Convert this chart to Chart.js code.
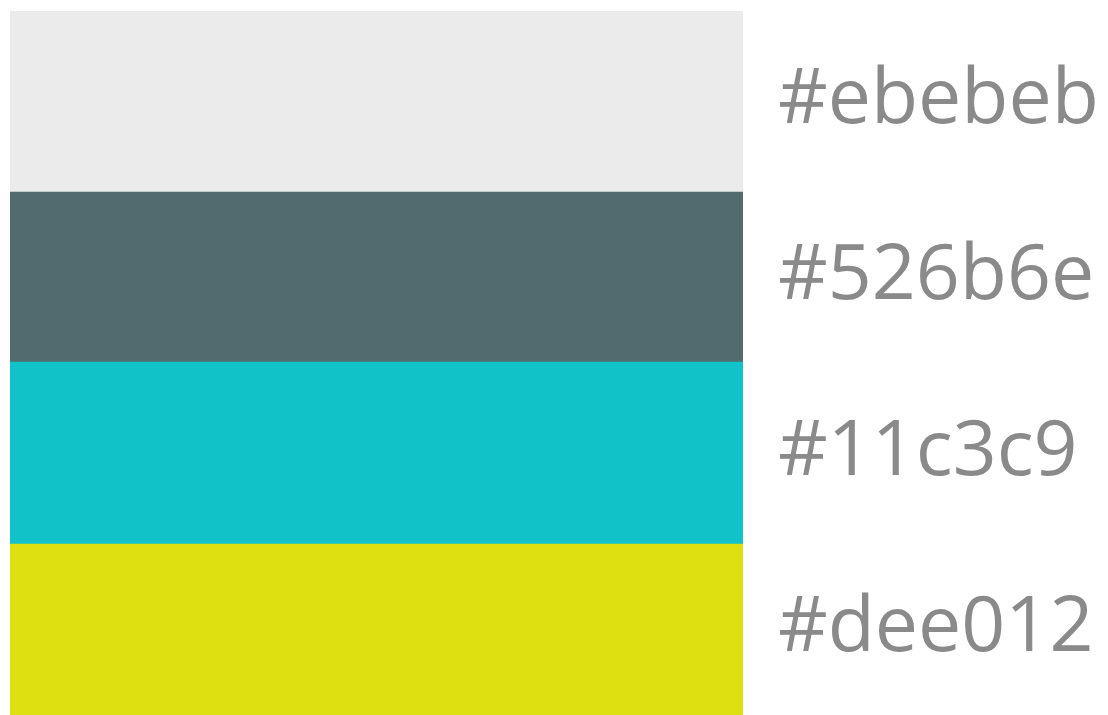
<!DOCTYPE html>
<html>
<head>
<meta charset="utf-8">
<script src="https://cdn.jsdelivr.net/npm/chart.js@4/dist/chart.umd.min.js"></script>
<style>
  html, body { margin: 0; padding: 0; background: #ffffff; }
  canvas { display: block; }
</style>
</head>
<body>
<canvas id="chart" width="1108" height="715"></canvas>
<script>
// swatches, top to bottom
const swatchLabels = ['#ebebeb', '#526b6e', '#11c3c9', '#dee012'];
const swatchColors = ['#ebebeb', '#526b6e', '#11c3c9', '#dee012'];
const swatchHeights = [181, 170, 182, 171];

document.addEventListener("DOMContentLoaded", function() {
    const ctx = document.getElementById('chart').getContext('2d');
    const total = swatchHeights.reduce((a, b) => a + b, 0);

    // stacked bars are built bottom-up, so flip the order
    const datasets = swatchHeights.map((h, i) => ({
        label: swatchLabels[i],
        data: [h],
        backgroundColor: swatchColors[i],
        borderWidth: 0,
        barPercentage: 1,
        categoryPercentage: 1
    })).reverse();

    // middle of each swatch, in value units, for the label ticks
    const mids = [];
    let top = total;
    swatchHeights.forEach((h, i) => {
        mids.push({ value: top - h / 2, label: swatchLabels[i] });
        top -= h;
    });

    new Chart(ctx, {
        type: 'bar',
        data: { labels: ['palette'], datasets: datasets },
        options: {
            responsive: false,
            animation: false,
            layout: { padding: { left: 10, top: 11, right: 0, bottom: 0 } },
            plugins: { legend: { display: false }, tooltip: { enabled: false } },
            scales: {
                x: { display: false, stacked: true },
                y: {
                    stacked: true,
                    position: 'right',
                    min: 0,
                    max: total,
                    grid: { display: false, drawTicks: false },
                    border: { display: false },
                    ticks: {
                        autoSkip: false,
                        padding: 35,
                        color: '#8a8a8a',
                        font: { family: "'Open Sans'", size: 77 },
                        callback: function(value) {
                            const m = mids.find(t => t.value === value);
                            return m ? m.label : '';
                        }
                    },
                    afterBuildTicks: function(scale) {
                        scale.ticks = mids.map(t => ({ value: t.value }));
                    },
                    afterFit: function(scale) {
                        scale.width = 365;
                        scale.paddingTop = 0;
                        scale.paddingBottom = 0;
                    }
                }
            }
        }
    });
});
</script>
</body>
</html>
